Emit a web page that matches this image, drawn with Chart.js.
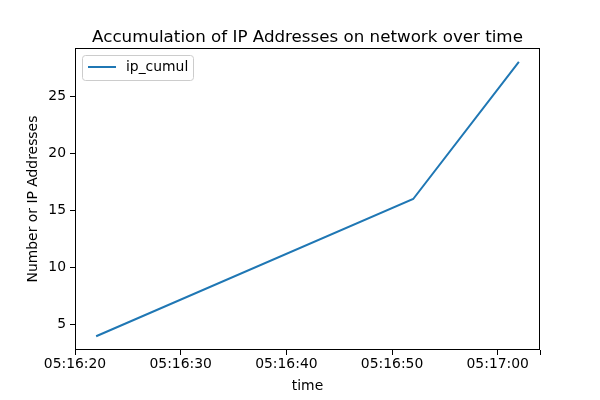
<!DOCTYPE html>
<html><head><meta charset="utf-8">
<script src="https://cdn.jsdelivr.net/npm/chart.js"></script>
<style>html,body{margin:0;padding:0;background:#fff}#wrap{width:600px;height:400px}</style>
</head><body><div id="wrap"><canvas id="c" width="600" height="400"></canvas></div>
<script>
const times = ["05:16:22", "05:16:52", "05:17:02"];
const ipCumul = [4, 16, 28];
const xTickLabels = ["05:16:20", "05:16:30", "05:16:40", "05:16:50", "05:17:00"];
const xMinorTicks = ["05:17:04"];
const xRange = ["05:16:20", "05:17:04"];
const yTicks = [5, 10, 15, 20, 25];
const yRange = [2.8, 29.2];
const seriesName = "ip_cumul";

function toSec(t) { const p = t.split(":").map(Number); return p[0] * 3600 + p[1] * 60 + p[2]; }

const FONT = "'DejaVu Sans', sans-serif";
const BLUE = "#1f77b4";
const labelMap = {};
xTickLabels.forEach(t => { labelMap[toSec(t)] = t; });
xMinorTicks.forEach(t => { labelMap[toSec(t)] = ""; });
const xTickVals = xTickLabels.concat(xMinorTicks).map(toSec);

const framePlugin = {
  id: "frame",
  afterDatasetsDraw(chart) {
    const ctx = chart.ctx, a = chart.chartArea;
    ctx.save();
    ctx.strokeStyle = "#000";
    ctx.lineWidth = 1;
    const l = Math.round(a.left) + 0.5, t = Math.round(a.top) + 0.5;
    const r = Math.round(a.right) - 0.5, b = Math.round(a.bottom) - 0.5;
    ctx.strokeRect(l, t, r - l, b - t);
    // legend
    const ds = chart.data.datasets[0];
    const bx = 82.5, by = 55.5, bw = 111, bh = 25, rad = 3;
    ctx.beginPath();
    ctx.moveTo(bx + rad, by);
    ctx.arcTo(bx + bw, by, bx + bw, by + bh, rad);
    ctx.arcTo(bx + bw, by + bh, bx, by + bh, rad);
    ctx.arcTo(bx, by + bh, bx, by, rad);
    ctx.arcTo(bx, by, bx + bw, by, rad);
    ctx.closePath();
    ctx.fillStyle = "rgba(255,255,255,0.8)";
    ctx.fill();
    ctx.strokeStyle = "#cccccc";
    ctx.stroke();
    ctx.beginPath();
    ctx.strokeStyle = ds.borderColor;
    ctx.lineWidth = 2;
    ctx.moveTo(88, 67);
    ctx.lineTo(116, 67);
    ctx.stroke();
    ctx.fillStyle = "#000";
    ctx.font = "13.9px " + FONT;
    ctx.textBaseline = "middle";
    ctx.textAlign = "left";
    ctx.fillText(ds.label, 126, 67);
    ctx.restore();
  }
};

new Chart(document.getElementById("c"), {
  type: "line",
  data: {
    datasets: [{
      label: seriesName,
      data: times.map((t, i) => ({ x: toSec(t), y: ipCumul[i] })),
      borderColor: BLUE,
      backgroundColor: BLUE,
      borderWidth: 2,
      pointRadius: 0,
      tension: 0,
      fill: false
    }]
  },
  options: {
    responsive: false,
    animation: false,
    devicePixelRatio: 1,
    layout: { padding: { left: 0, right: 60, top: 0, bottom: 0 } },
    plugins: {
      legend: { display: false },
      tooltip: { enabled: false },
      title: {
        display: true,
        text: "Accumulation of IP Addresses on network over time",
        color: "#000",
        fullSize: false,
        font: { family: FONT, size: 16.7, weight: "normal" },
        padding: { top: 28, bottom: 0 }
      }
    },
    scales: {
      x: {
        type: "linear",
        min: toSec(xRange[0]),
        max: toSec(xRange[1]),
        afterFit(axis) { axis.height = 50; },
        afterBuildTicks(axis) { axis.ticks = xTickVals.map(v => ({ value: v })); },
        ticks: {
          autoSkip: false,
          maxRotation: 0,
          color: "#000",
          padding: 1,
          font: { family: FONT, size: 13.9 },
          callback: v => (labelMap[v] !== undefined ? labelMap[v] : "")
        },
        grid: { display: true, drawOnChartArea: false, drawTicks: true, tickLength: 5, color: "#000", lineWidth: 1 },
        border: { display: false },
        title: {
          display: true, text: "time", color: "#000",
          font: { family: FONT, size: 13.9 },
          padding: { top: 0, bottom: 5 }
        }
      },
      y: {
        type: "linear",
        min: yRange[0],
        max: yRange[1],
        afterFit(axis) { axis.width = 75; },
        afterBuildTicks(axis) { axis.ticks = yTicks.map(v => ({ value: v })); },
        ticks: {
          color: "#000",
          padding: 4,
          font: { family: FONT, size: 13.9 }
        },
        grid: { display: true, drawOnChartArea: false, drawTicks: true, tickLength: 5, color: "#000", lineWidth: 1 },
        border: { display: false },
        title: {
          display: true, text: "Number or IP Addresses", color: "#000",
          font: { family: FONT, size: 13.9 },
          padding: { top: 25, bottom: 0 }
        }
      }
    }
  },
  plugins: [framePlugin]
});
</script>
</body></html>
